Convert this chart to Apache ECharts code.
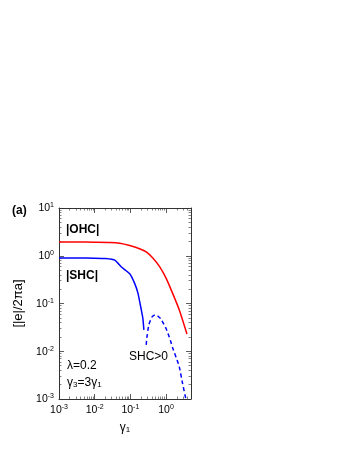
<!DOCTYPE html>
<html>
<head>
<meta charset="utf-8">
<script src="https://cdn.jsdelivr.net/npm/echarts@6/dist/echarts.min.js"></script>
<style>
html,body{margin:0;padding:0;background:#fff;}
#c{width:349px;height:451px;}
</style>
</head>
<body>
<div id="c"></div>
<script>
// x values (gamma_1) and |e|/2πa values
var ohcX = [0.001, 0.003, 0.01, 0.0266, 0.0505, 0.0957, 0.181, 0.278, 0.425, 0.652, 1.0, 1.52, 2.34, 3.85];
var ohcY = [1.94, 1.94, 1.92, 1.90, 1.83, 1.64, 1.40, 1.20, 0.895, 0.597, 0.340, 0.165, 0.0738, 0.023];

var shcX = [0.001, 0.003, 0.01, 0.02, 0.0367, 0.0562, 0.0957, 0.130, 0.163, 0.193, 0.224, 0.239];
var shcY = [0.895, 0.895, 0.89, 0.875, 0.81, 0.58, 0.42, 0.27, 0.165, 0.088, 0.049, 0.028];

var shcPosX = [0.278, 0.289, 0.329, 0.40, 0.494, 0.60, 0.727, 1.0, 1.32, 1.52, 2.34, 2.89, 3.59];
var shcPosY = [0.0136, 0.019, 0.0357, 0.052, 0.058, 0.054, 0.047, 0.030, 0.017, 0.012, 0.00478, 0.00214, 0.001];

var xMin = 0.001, xMax = 5, yMin = 0.001, yMax = 10;

function pairs(xs, ys){ return xs.map(function(x,i){ return [x, ys[i]]; }); }

function powLabel(v){
  var e = Math.round(Math.log10(v));
  if (Math.abs(Math.log10(v) - e) > 1e-6) return '';
  return '{b|10}{s|' + e + '}';
}
var richLab = {
  b: {fontSize: 10.5, color: '#000', fontFamily: 'Liberation Sans', lineHeight: 12, verticalAlign: 'bottom'},
  s: {fontSize: 7, color: '#000', fontFamily: 'Liberation Sans', lineHeight: 7, verticalAlign: 'top', padding: [0,0,5,0]}
};
var lineC = '#333';

function axisCommon(showLabel){
  return {
    axisLine: {show: true, lineStyle: {color: lineC, width: 1}},
    axisTick: {show: true, inside: true, length: 5, lineStyle: {color: lineC, width: 0.8}},
    minorTick: {show: true, splitNumber: 9, length: 2.5, lineStyle: {color: lineC, width: 0.6}},
    splitLine: {show: false},
    axisLabel: showLabel ? {show: true, formatter: powLabel, rich: richLab, margin: 5, showMaxLabel: true, hideOverlap: false} : {show: false}
  };
}

var option = {
  animation: false,
  backgroundColor: '#fff',
  grid: {left: 59, right: 158, top: 208, bottom: 52},
  xAxis: [
    Object.assign({type: 'log', logBase: 10, min: xMin, max: xMax, position: 'bottom',
      name: '{g|γ}{sub|1}', nameLocation: 'middle', nameGap: 22,
      nameTextStyle: {rich: {g: {fontSize: 12, fontFamily: 'Liberation Sans', color: '#000'}, sub: {fontSize: 8, fontFamily: 'Liberation Sans', color: '#000', verticalAlign: 'bottom', padding: [5,0,0,0]}}}
    }, axisCommon(true)),
    Object.assign({type: 'log', logBase: 10, min: xMin, max: xMax, position: 'top'}, axisCommon(false))
  ],
  yAxis: [
    Object.assign({type: 'log', logBase: 10, min: yMin, max: yMax, position: 'left',
      name: '[|e|/2πa]', nameLocation: 'middle', nameGap: 34, nameRotate: 90,
      nameTextStyle: {fontSize: 13, fontFamily: 'Liberation Sans', color: '#000'}
    }, axisCommon(true)),
    Object.assign({type: 'log', logBase: 10, min: yMin, max: yMax, position: 'right'}, axisCommon(false))
  ],
  series: [
    {type: 'line', data: pairs(ohcX, ohcY), showSymbol: false, smooth: 0.15, lineStyle: {color: '#ff0000', width: 1.5}},
    {type: 'line', data: pairs(shcX, shcY), showSymbol: false, smooth: 0.15, lineStyle: {color: '#0000ff', width: 1.5}},
    {type: 'line', data: pairs(shcPosX, shcPosY), showSymbol: false, smooth: 0.15, lineStyle: {color: '#0000ff', width: 1.5, type: [4, 3]}}
  ],
  graphic: [
    {type: 'text', left: 12, top: 205, style: {text: '(a)', font: 'bold 12px "Liberation Sans"', fill: '#000'}},
    {type: 'text', left: 66, top: 224, style: {text: '|OHC|', font: 'bold 12px "Liberation Sans"', fill: '#000'}},
    {type: 'text', left: 66, top: 270, style: {text: '|SHC|', font: 'bold 12px "Liberation Sans"', fill: '#000'}},
    {type: 'text', left: 129, top: 351, style: {text: 'SHC>0', font: '12px "Liberation Sans"', fill: '#000'}},
    {type: 'text', left: 67, top: 360, style: {text: 'λ=0.2', font: '12px "Liberation Sans"', fill: '#000'}},
    {type: 'text', left: 67, top: 377, style: {
      text: '{g|γ}{sub|3}{g|=3γ}{sub|1}',
      rich: {g: {fontSize: 12, fontFamily: 'Liberation Sans', fill: '#000'}, sub: {fontSize: 8, fontFamily: 'Liberation Sans', fill: '#000', verticalAlign: 'bottom', padding: [4,0,0,0]}}
    }}
  ]
};
var chart = echarts.init(document.getElementById('c'), null, {renderer: 'canvas'});
chart.setOption(option);
</script>
</body>
</html>
